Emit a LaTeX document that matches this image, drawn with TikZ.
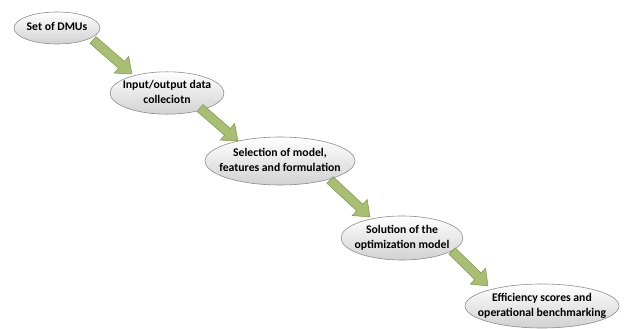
\documentclass[tikz,border=0pt]{standalone}
\usepackage{fontspec}
\setmainfont{Carlito}
\usetikzlibrary{shapes.geometric,calc}
\definecolor{arrfill}{HTML}{A8BE72}
\definecolor{arrline}{HTML}{7F964A}
\definecolor{ellline}{HTML}{8E8E8E}
\tikzset{
  stage/.style={ellipse, draw=ellline, line width=0.6pt, top color=white, bottom color=black!18,
    font=\fontsize{11.7}{15}\selectfont\bfseries, inner sep=0pt},
  barrow/.style={draw=arrline, fill=arrfill, line width=0.5pt, line join=miter}
}
% zero-width centred label so that the ellipse keeps its given size
\newcommand\lbl[1]{\makebox[0pt][c]{\begin{tabular}{@{}c@{}}#1\end{tabular}}}
% block arrow from named coordinate #1 to named coordinate #2
\newcommand\blockarr[2]{%
  \coordinate (hb) at ($(#2)!14pt!(#1)$);
  \draw[barrow] ($(#1)!4.5pt!90:(#2)$) -- ($(hb)!4.5pt!-90:(#1)$) -- ($(hb)!11pt!-90:(#1)$)
    -- (#2) -- ($(hb)!11pt!90:(#1)$) -- ($(hb)!4.5pt!90:(#1)$) -- ($(#1)!4.5pt!-90:(#2)$) -- cycle;}
\begin{document}
\begin{tikzpicture}[x=1pt,y=-1pt]
\useasboundingbox (0,0) rectangle (629,329);
\node[stage, minimum width=86pt, minimum height=32pt] (s1) at (57,28) {\lbl{Set of DMUs}};
\node[stage, minimum width=114pt, minimum height=40pt] (s2) at (167,93) {\lbl{Input/output data\\colleciotn}};
\node[stage, minimum width=150pt, minimum height=48pt] (s3) at (280,161) {\lbl{Selection of model,\\features and formulation}};
\node[stage, minimum width=122pt, minimum height=44pt] (s4) at (402,238) {\lbl{Solution of the\\optimization model}};
\node[stage, minimum width=154pt, minimum height=44pt] (s5) at (542,306) {\lbl{Efficiency scores and\\operational benchmarking}};
\coordinate (a1s) at (93,40);  \coordinate (a1e) at (132,74);
\coordinate (a2s) at (200,108); \coordinate (a2e) at (238,141);
\coordinate (a3s) at (330,180); \coordinate (a3e) at (370,217);
\coordinate (a4s) at (452,251); \coordinate (a4e) at (488,286);
\blockarr{a1s}{a1e}
\blockarr{a2s}{a2e}
\blockarr{a3s}{a3e}
\blockarr{a4s}{a4e}
\end{tikzpicture}
\end{document}
